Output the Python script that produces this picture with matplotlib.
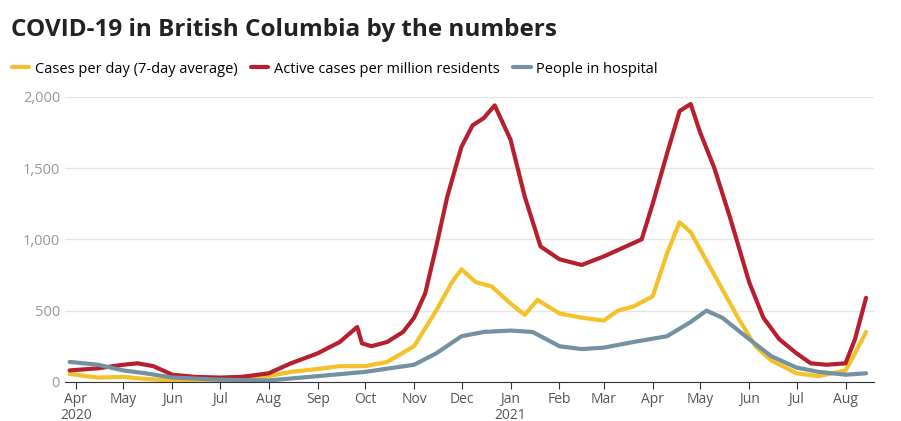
import matplotlib
matplotlib.use("Agg")
import matplotlib.pyplot as plt
import matplotlib.dates as mdates
from matplotlib.ticker import FuncFormatter
import pandas as pd

plt.rcParams["font.family"] = ["Open Sans", "DejaVu Sans"]

# (date, value) anchor readings from the reference
cases = [("2020-03-28", 55), ("2020-04-15", 30), ("2020-05-01", 35), ("2020-05-15", 20), ("2020-06-01", 10),
         ("2020-07-01", 15), ("2020-07-15", 25), ("2020-08-01", 40), ("2020-08-15", 70), ("2020-09-01", 90),
         ("2020-09-15", 110), ("2020-10-01", 110), ("2020-10-15", 140), ("2020-11-01", 250), ("2020-11-15", 500),
         ("2020-11-25", 700), ("2020-12-01", 790), ("2020-12-10", 700), ("2020-12-20", 670), ("2021-01-01", 550),
         ("2021-01-10", 470), ("2021-01-18", 575), ("2021-02-01", 480), ("2021-02-15", 450), ("2021-03-01", 430),
         ("2021-03-10", 500), ("2021-03-20", 530), ("2021-04-01", 600), ("2021-04-10", 900), ("2021-04-18", 1120),
         ("2021-04-25", 1050), ("2021-05-05", 850), ("2021-05-15", 650), ("2021-05-25", 450), ("2021-06-05", 250),
         ("2021-06-15", 150), ("2021-07-01", 60), ("2021-07-15", 40), ("2021-08-01", 80), ("2021-08-07", 200),
         ("2021-08-14", 350)]
active = [("2020-03-28", 80), ("2020-04-15", 95), ("2020-05-01", 120), ("2020-05-10", 130), ("2020-05-20", 110),
          ("2020-06-01", 50), ("2020-06-15", 35), ("2020-07-01", 30), ("2020-07-15", 35), ("2020-08-01", 60),
          ("2020-08-15", 130), ("2020-09-01", 200), ("2020-09-15", 280), ("2020-09-26", 385), ("2020-09-29", 270),
          ("2020-10-05", 250), ("2020-10-15", 280), ("2020-10-25", 350), ("2020-11-01", 450), ("2020-11-08", 620),
          ("2020-11-15", 950), ("2020-11-22", 1300), ("2020-12-01", 1650), ("2020-12-08", 1800), ("2020-12-15", 1850),
          ("2020-12-22", 1940), ("2021-01-01", 1700), ("2021-01-10", 1300), ("2021-01-20", 950), ("2021-02-01", 860),
          ("2021-02-15", 820), ("2021-03-01", 880), ("2021-03-15", 950), ("2021-03-25", 1000), ("2021-04-01", 1250),
          ("2021-04-10", 1600), ("2021-04-18", 1900), ("2021-04-25", 1950), ("2021-05-01", 1750), ("2021-05-10", 1500),
          ("2021-05-20", 1150), ("2021-06-01", 700), ("2021-06-10", 450), ("2021-06-20", 300), ("2021-07-01", 200),
          ("2021-07-10", 130), ("2021-07-20", 120), ("2021-08-01", 130), ("2021-08-07", 300), ("2021-08-14", 590)]
hospital = [("2020-03-28", 140), ("2020-04-15", 120), ("2020-05-01", 80), ("2020-05-15", 60), ("2020-06-01", 30),
            ("2020-07-01", 15), ("2020-08-01", 10), ("2020-09-01", 40), ("2020-10-01", 70), ("2020-11-01", 120),
            ("2020-11-15", 200), ("2020-12-01", 320), ("2020-12-15", 350), ("2021-01-01", 360), ("2021-01-15", 350),
            ("2021-02-01", 250), ("2021-02-15", 230), ("2021-03-01", 240), ("2021-03-20", 280), ("2021-04-10", 320),
            ("2021-04-25", 420), ("2021-05-05", 500), ("2021-05-15", 450), ("2021-06-01", 300), ("2021-06-15", 180),
            ("2021-07-01", 100), ("2021-07-15", 70), ("2021-08-01", 50), ("2021-08-14", 60)]

series = [("Cases per day (7-day average)", cases, "#f4c12b"),
          ("Active cases per million residents", active, "#b71f2e"),
          ("People in hospital", hospital, "#7391a1")]


def month_label(x, pos):
    d = mdates.num2date(x)
    s = d.strftime("%b")
    if d.month == 1 or (d.year == 2020 and d.month == 4):
        s += "\n" + d.strftime("%Y")
    return s


fig = plt.figure(figsize=(9.01, 4.21), dpi=100)
ax = fig.add_axes([0.072, 0.093, 0.898, 0.677])
for label, pts, color in series:
    d = pd.to_datetime([p[0] for p in pts])
    v = [p[1] for p in pts]
    ax.plot(d, v, color=color, lw=3, label=label, solid_capstyle="round")

ax.set_ylim(0, 2000)
ax.set_yticks(range(0, 2001, 500))
ax.yaxis.set_major_formatter(FuncFormatter(lambda x, p: f"{int(x):,}"))
ax.set_xlim(pd.Timestamp("2020-03-25"), pd.Timestamp("2021-08-19"))
ax.xaxis.set_major_locator(mdates.MonthLocator())
ax.xaxis.set_major_formatter(FuncFormatter(month_label))
ax.grid(axis="y", color="#e6e6e6", lw=1)
ax.set_axisbelow(True)
for s in ["top", "right", "left"]:
    ax.spines[s].set_visible(False)
ax.spines["bottom"].set_color("#333333")
ax.tick_params(axis="y", length=0, colors="#999999", labelsize=10.5)
ax.tick_params(axis="x", length=5, pad=2, colors="#333333", labelsize=10, labelcolor="#555555")
for t in ax.get_xticklabels():
    t.set_horizontalalignment("center")
    t.set_linespacing(1.1)

fig.text(0.012, 0.915, "COVID-19 in British Columbia by the numbers", fontsize=17.5, fontweight="bold", color="#222222")
ax.legend(loc="lower left", bbox_to_anchor=(-0.082, 1.025), ncol=3, frameon=False, fontsize=10.5,
          handlelength=1.2, handletextpad=0.4, columnspacing=0.9)
fig.savefig("out.png", dpi=100)
